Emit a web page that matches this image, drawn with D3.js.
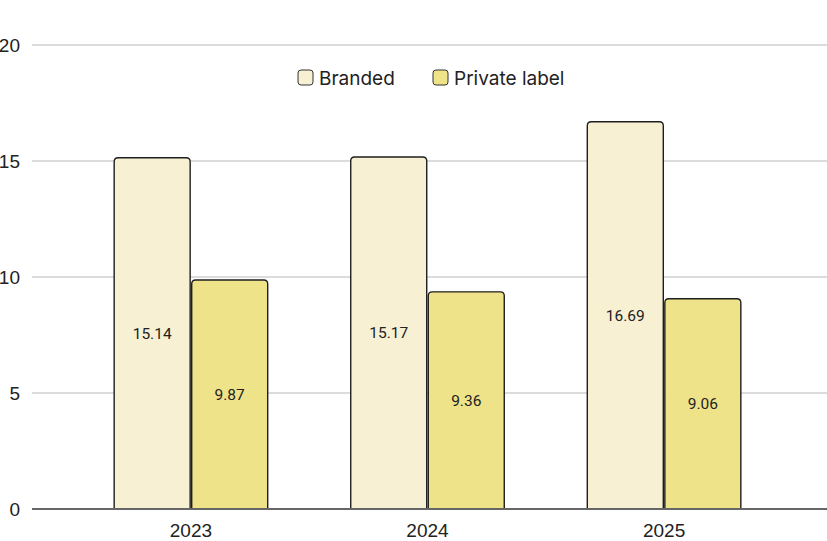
<!DOCTYPE html>
<html>
<head>
<meta charset="utf-8">
<script src="https://cdn.jsdelivr.net/npm/d3@7"></script>
<style>
  html, body { margin: 0; padding: 0; background: #fff; }
  svg { display: block; }
</style>
</head>
<body>
<svg id="chart" width="827" height="541"></svg>
<script>
const years = ["2023", "2024", "2025"];
const seriesNames = ["Branded", "Private label"];
const branded = [15.14, 15.17, 16.69];
const privateLabel = [9.87, 9.36, 9.06];
const yTicks = [0, 5, 10, 15, 20];
const colors = ["#f8f0d3", "#efe389"];

const svg = d3.select("#chart");

const y = d3.scaleLinear().domain([0, 20]).range([509, 45]);
const x0 = d3.scaleBand().domain(years).range([73, 782]).paddingInner(0.351).paddingOuter(0.174);
const x1 = d3.scaleBand().domain(seriesNames).range([0, x0.bandwidth()]).paddingInner(0.02);

// y axis labels
const yAxis = d3.axisLeft(y).tickValues(yTicks).tickSize(0).tickPadding(0).tickFormat(d3.format("d"));
const gAxis = svg.append("g").attr("transform", "translate(20,0)").call(yAxis);
gAxis.select(".domain").remove();
gAxis.selectAll("text")
  .attr("font-family", "Liberation Sans, Arial, sans-serif")
  .attr("font-size", 19)
  .attr("fill", "#222")
  .attr("dy", "0.35em");

// gridlines
svg.append("g").selectAll("line").data(yTicks.filter(d => d !== 0)).join("line")
  .attr("x1", 32).attr("x2", 827)
  .attr("y1", d => y(d)).attr("y2", d => y(d))
  .attr("stroke", "#d0d0d0").attr("stroke-width", 1.3);

// bars
const data = years.map((yr, i) => ({ year: yr, values: [branded[i], privateLabel[i]] }));
const groups = svg.append("g").selectAll("g").data(data).join("g")
  .attr("transform", d => `translate(${x0(d.year)},0)`);

groups.selectAll("path").data(d => d.values.map((v, j) => ({ v, j }))).join("path")
  .attr("d", d => {
    const xL = x1(seriesNames[d.j]), w = x1.bandwidth();
    const top = y(d.v), bot = y(0), r = 4;
    return `M${xL},${bot} L${xL},${top + r} Q${xL},${top} ${xL + r},${top} L${xL + w - r},${top} Q${xL + w},${top} ${xL + w},${top + r} L${xL + w},${bot}`;
  })
  .attr("fill", d => colors[d.j])
  .attr("stroke", "#1e1e1e")
  .attr("stroke-width", 1.4);

groups.selectAll("text").data(d => d.values.map((v, j) => ({ v, j }))).join("text")
  .attr("x", d => x1(seriesNames[d.j]) + x1.bandwidth() / 2)
  .attr("y", d => (y(d.v) + y(0)) / 2)
  .attr("dy", "0.35em")
  .attr("text-anchor", "middle")
  .attr("font-family", "Roboto, sans-serif")
  .attr("font-size", 15.5)
  .attr("fill", "#222")
  .text(d => d.v.toFixed(2));

// baseline
svg.append("line")
  .attr("x1", 32).attr("x2", 827)
  .attr("y1", y(0)).attr("y2", y(0))
  .attr("stroke", "#666").attr("stroke-width", 2);

// x axis labels
const xAxis = d3.axisBottom(x0).tickSize(0).tickPadding(0);
const gx = svg.append("g").attr("transform", `translate(0,${y(0)})`).call(xAxis);
gx.select(".domain").remove();
gx.selectAll("text")
  .attr("font-family", "Liberation Sans, Arial, sans-serif")
  .attr("font-size", 19)
  .attr("fill", "#222")
  .attr("y", 21.5)
  .attr("dy", "0.35em");

// legend
const legendItems = [
  { name: seriesNames[0], color: colors[0], x: 298 },
  { name: seriesNames[1], color: colors[1], x: 433 }
];
const lg = svg.append("g").selectAll("g").data(legendItems).join("g")
  .attr("transform", d => `translate(${d.x},70)`);
lg.append("rect")
  .attr("width", 15).attr("height", 15).attr("rx", 3)
  .attr("fill", d => d.color).attr("stroke", "#333").attr("stroke-width", 1);
lg.append("text")
  .attr("x", 21).attr("y", 8).attr("dy", "0.35em")
  .attr("font-family", "Inter, Roboto, sans-serif")
  .attr("font-size", 19)
  .attr("fill", "#222")
  .text(d => d.name);
</script>
</body>
</html>
